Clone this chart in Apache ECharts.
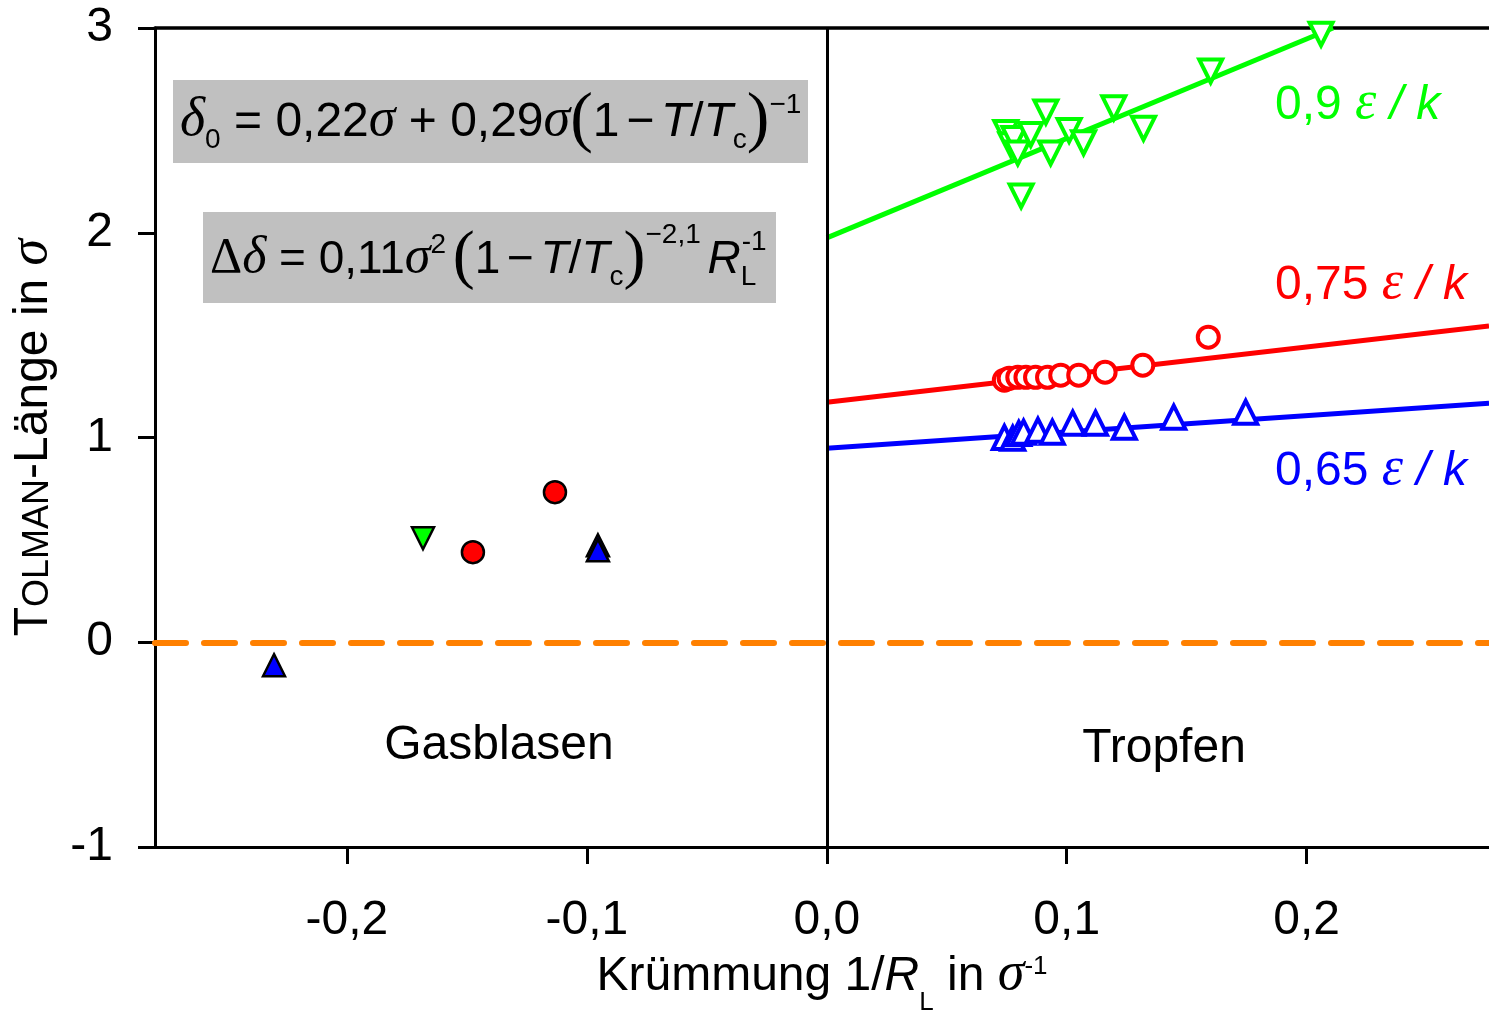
<!DOCTYPE html>
<html><head><meta charset="utf-8">
<script src="https://cdn.jsdelivr.net/npm/echarts@6/dist/echarts.min.js"></script>
<style>html,body{margin:0;padding:0;background:#fff}#c{width:1489px;height:1013px}</style>
</head><body><div id="c"></div>
<script>
// ---- axis ticks ----
const xTickValues = [-0.2, -0.1, 0.0, 0.1, 0.2];
const yTickValues = [-1, 0, 1, 2, 3];

// ---- Tropfen (drops), simulation points ----
const drop09X = [0.0746, 0.0767, 0.078, 0.0796, 0.081, 0.085, 0.0913, 0.0933, 0.101, 0.107, 0.1196, 0.132, 0.160, 0.206];
const drop09Y = [2.49, 2.43, 2.46, 2.39, 2.18, 2.48, 2.59, 2.39, 2.50, 2.44, 2.61, 2.51, 2.79, 2.97];
const drop075X = [0.074, 0.076, 0.0796, 0.083, 0.087, 0.092, 0.0975, 0.105, 0.116, 0.1317, 0.159];
const drop075Y = [1.28, 1.289, 1.294, 1.294, 1.294, 1.294, 1.304, 1.304, 1.319, 1.353, 1.49];
const drop065X = [0.074, 0.0775, 0.080, 0.082, 0.088, 0.094, 0.1025, 0.112, 0.124, 0.1446, 0.1746];
const drop065Y = [1.0, 0.996, 1.02, 1.026, 1.035, 1.026, 1.07, 1.07, 1.05, 1.099, 1.123];

// ---- fit lines (end points) ----
const fit09X = [0, 0.211];   const fit09Y = [1.975, 3.0];
const fit075X = [0, 0.276];  const fit075Y = [1.172, 1.545];
const fit065X = [0, 0.276];  const fit065Y = [0.947, 1.167];

// ---- Gasblasen (bubbles) ----
const bub09X = [-0.1683];            const bub09Y = [0.508];
const bub075X = [-0.1475, -0.1133];  const bub075Y = [0.44, 0.733];
const bub065X = [-0.2304, -0.0954, -0.0954]; const bub065Y = [-0.112, 0.474, 0.449];

const zip = (a, b) => a.map((v, i) => [v, b[i]]);

const GREEN = '#00ff00', RED = '#ff0000', BLUE = '#0000ff', ORANGE = '#ff8000';
const SANS = 'Liberation Sans', SERIF = 'Liberation Serif';

// rich-text helper: tokens top-aligned, baseline placed B px below line top (+shift, downwards)
const B = 60;
function tok(size, shift, family, italic, extra) {
  const r = family === SERIF ? 0.3375 : 0.3465;
  const pad = B + shift - (0.5 + r) * size;
  return Object.assign({
    fontFamily: family, fontSize: size, fontStyle: italic ? 'italic' : 'normal',
    verticalAlign: 'top', padding: [pad, 0, 0, 0]
  }, extra || {});
}
function richSet(color, base) {
  const s = {
    n: tok(base, 0, SANS, false), i: tok(base, 0, SANS, true),
    s: tok(24, 0, SANS, false),
    g: tok(base + 6, 0, SERIF, true), G: tok(base + 4, 0, SERIF, false),
    sc: tok(Math.round(base * 0.76), 0, SANS, false),
    sub: tok(28, 11, SANS, false), subw: tok(28, 11, SANS, false, {width: 1}),
    sup: tok(28, -24, SANS, false), sup2: tok(28, -31, SANS, false), sups: tok(28, -21, SANS, false),
    supx: tok(26, -17, SANS, false), subx: tok(26, 19, SANS, false),
    p: tok(base + 20, 5, SERIF, false)
  };
  Object.keys(s).forEach(k => { s[k].color = color; s[k].fill = color; });
  return s;
}

const chart = echarts.init(document.getElementById('c'), null, {renderer: 'canvas'});
const hollow = (color, symbol, rotate) => ({
  symbol: symbol, symbolRotate: rotate || 0, symbolSize: symbol === 'circle' ? 21 : 23,
  itemStyle: {color: '#ffffff', borderColor: color, borderWidth: 4, opacity: 1}
});
const filled = (color, symbol, rotate) => ({
  symbol: symbol, symbolRotate: rotate || 0, symbolSize: 22,
  itemStyle: {color: color, borderColor: '#000', borderWidth: 2.5, opacity: 1}
});

const option = {
  animation: false,
  backgroundColor: '#fff',
  grid: {left: 155, top: 28, width: 1334, height: 819, containLabel: false, outerBoundsMode: 'none'},
  xAxis: [{
    type: 'value', min: -0.28, max: 0.276,
    axisLine: {onZero: false, lineStyle: {color: '#000', width: 3}},
    axisTick: {show: true, length: 17, lineStyle: {color: '#000', width: 3}, customValues: xTickValues},
    axisLabel: {customValues: xTickValues, margin: 50, fontFamily: SANS, fontSize: 48, color: '#000',
      formatter: v => v.toFixed(1).replace('.', ',')},
    splitLine: {show: false},
    name: '{n|Krümmung 1/}{i|R}{subx|L}{n| in }{g|σ}{supx|-1}',
    nameLocation: 'middle', nameGap: 86, nameMoveOverlap: false,
    nameTextStyle: {rich: richSet('#000', 48)}
  }, {
    type: 'value', position: 'top', min: -0.28, max: 0.276,
    axisLine: {onZero: false, lineStyle: {color: '#000', width: 3.5}},
    axisTick: {show: false}, axisLabel: {show: false}, splitLine: {show: false}
  }],
  yAxis: {
    type: 'value', min: -1, max: 3, interval: 1,
    axisLine: {onZero: false, lineStyle: {color: '#000', width: 3}},
    axisTick: {show: true, length: 17, lineStyle: {color: '#000', width: 3}},
    axisLabel: {margin: 42, fontFamily: SANS, fontSize: 48, color: '#000'},
    splitLine: {show: false},
    name: '{n|T}{sc|OLMAN}{n|-Länge in }{g|σ}',
    nameLocation: 'middle', nameRotate: 90, nameGap: 96, nameMoveOverlap: false,
    nameTextStyle: {rich: richSet('#000', 48)}
  },
  series: [
    {type: 'line', data: [], silent: true, z: 1,
      markLine: {silent: true, symbol: ['none', 'none'], label: {show: false},
        data: [
          {xAxis: 0, lineStyle: {color: '#000', width: 3, type: 'solid'}},
          {yAxis: 0, lineStyle: {color: ORANGE, width: 6, type: [31, 18], cap: 'round'}}
        ]}},
    {type: 'line', data: zip(fit09X, fit09Y), showSymbol: false, silent: true, z: 2, lineStyle: {color: GREEN, width: 5}},
    {type: 'line', data: zip(fit075X, fit075Y), showSymbol: false, silent: true, z: 2, lineStyle: {color: RED, width: 5}},
    {type: 'line', data: zip(fit065X, fit065Y), showSymbol: false, silent: true, z: 2, lineStyle: {color: BLUE, width: 5}},
    Object.assign({type: 'scatter', z: 3, data: zip(drop09X, drop09Y)}, hollow(GREEN, 'triangle', 180)),
    Object.assign({type: 'scatter', z: 3, data: zip(drop075X, drop075Y)}, hollow(RED, 'circle')),
    Object.assign({type: 'scatter', z: 3, data: zip(drop065X, drop065Y)}, hollow(BLUE, 'triangle')),
    Object.assign({type: 'scatter', z: 3, data: zip(bub09X, bub09Y)}, filled(GREEN, 'triangle', 180)),
    Object.assign({type: 'scatter', z: 3, data: zip(bub075X, bub075Y)}, filled(RED, 'circle')),
    Object.assign({type: 'scatter', z: 3, data: zip(bub065X, bub065Y)}, filled(BLUE, 'triangle'))
  ],
  graphic: [
    {type: 'rect', shape: {x: 173, y: 80, width: 635, height: 83}, style: {fill: '#c0c0c0'}, z: 5},
    {type: 'rect', shape: {x: 203, y: 212, width: 573, height: 91}, style: {fill: '#c0c0c0'}, z: 5},
    {type: 'text', x: 180, y: 139 - B, z: 6, style: {
      text: '{g|δ}{sub|0}{n| = 0,22}{g|σ}{n| + 0,29}{g|σ}{p|(}{n|1}{s| }{n|−}{s| }{i|T}{n|/}{i|T}{sub|c}{p|)}{sup|−1}',
      rich: richSet('#000', 48), align: 'left', verticalAlign: 'top'}},
    {type: 'text', x: 210, y: 276 - B, z: 6, style: {
      text: '{G|Δ}{g|δ}{n| = 0,11}{g|σ}{sups|2}{s| }{p|(}{n|1}{s| }{n|−}{s| }{i|T}{n|/}{i|T}{sub|c}{p|)}{sup2|−2,1}{s| }{i|R}{subw|L}{sup|-1}',
      rich: richSet('#000', 46), align: 'left', verticalAlign: 'top'}},
    {type: 'text', x: 1275, y: 122 - B, z: 6, style: {
      text: '{n|0,9 }{g|ε}{i| / k}', rich: richSet(GREEN, 48), align: 'left', verticalAlign: 'top'}},
    {type: 'text', x: 1275, y: 302 - B, z: 6, style: {
      text: '{n|0,75 }{g|ε}{i| / k}', rich: richSet(RED, 48), align: 'left', verticalAlign: 'top'}},
    {type: 'text', x: 1275, y: 488 - B, z: 6, style: {
      text: '{n|0,65 }{g|ε}{i| / k}', rich: richSet(BLUE, 48), align: 'left', verticalAlign: 'top'}},
    {type: 'text', x: 499, y: 746, z: 6, style: {
      text: 'Gasblasen', font: '48px "Liberation Sans"', fill: '#000', align: 'center', verticalAlign: 'middle'}},
    {type: 'text', x: 1164, y: 749, z: 6, style: {
      text: 'Tropfen', font: '48px "Liberation Sans"', fill: '#000', align: 'center', verticalAlign: 'middle'}}
  ]
};
chart.setOption(option);
</script></body></html>
